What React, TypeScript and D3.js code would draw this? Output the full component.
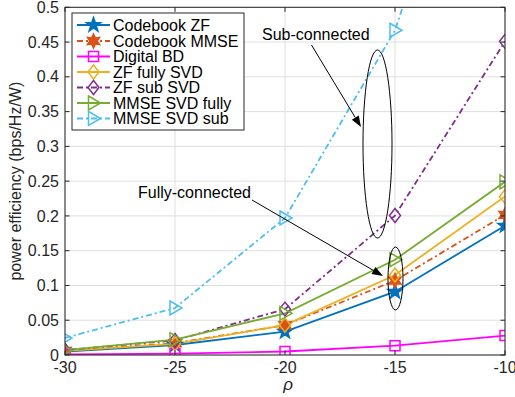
import React from "react";
import * as d3 from "d3";

const rho = [-30, -25, -20, -15, -10];
const codebookZF = [0.005, 0.0144, 0.0335, 0.091, 0.186];
const codebookMMSE = [0.006, 0.017, 0.043, 0.107, 0.2015];
const digitalBD = [0.001, 0.002, 0.005, 0.0134, 0.028];
const zfFullySVD = [0.006, 0.016, 0.043, 0.115, 0.228];
const zfSubSVD = [0.007, 0.021, 0.066, 0.2005, 0.451];
const mmseSVDFully = [0.007, 0.022, 0.06, 0.137, 0.249];
const mmseSVDSub = [0.0245, 0.0676, 0.197, 0.467, 0.94];
const xTicks = [-30, -25, -20, -15, -10];
const yTicks = [0, 0.05, 0.1, 0.15, 0.2, 0.25, 0.3, 0.35, 0.4, 0.45, 0.5];
const seriesNames = [
  "Codebook ZF",
  "Codebook MMSE",
  "Digital BD",
  "ZF fully SVD",
  "ZF sub SVD",
  "MMSE SVD fully",
  "MMSE SVD sub",
];

const W = 515, H = 397;
const L = 65, R = 505, T = 7.3, B = 355;
const FONT = "'Liberation Sans', Arial, Helvetica, sans-serif";
const AX = "#262626";

type Marker = "pentagram" | "hexagram" | "square" | "diamond" | "triangleRight";

const series: { name: string; values: number[]; color: string; dash: string | null; marker: Marker; fill: boolean }[] = [
  { name: seriesNames[0], values: codebookZF, color: "#0072BD", dash: null, marker: "pentagram", fill: true },
  { name: seriesNames[1], values: codebookMMSE, color: "#D95319", dash: "6,3,2,3", marker: "hexagram", fill: true },
  { name: seriesNames[2], values: digitalBD, color: "#FF00FF", dash: null, marker: "square", fill: false },
  { name: seriesNames[3], values: zfFullySVD, color: "#EDB120", dash: null, marker: "diamond", fill: false },
  { name: seriesNames[4], values: zfSubSVD, color: "#7E2F8E", dash: "6,3,2,3", marker: "diamond", fill: false },
  { name: seriesNames[5], values: mmseSVDFully, color: "#77AC30", dash: null, marker: "triangleRight", fill: false },
  { name: seriesNames[6], values: mmseSVDSub, color: "#4DBEEE", dash: "6,3,2,3", marker: "triangleRight", fill: false },
];

function starPath(n: number, ro: number, ri: number) {
  const pts: string[] = [];
  for (let i = 0; i < 2 * n; i++) {
    const r = i % 2 === 0 ? ro : ri;
    const a = -Math.PI / 2 + (i * Math.PI) / n;
    pts.push(`${(r * Math.cos(a)).toFixed(2)},${(r * Math.sin(a)).toFixed(2)}`);
  }
  return "M" + pts.join("L") + "Z";
}

function markerPath(m: Marker) {
  switch (m) {
    case "pentagram":
      return starPath(5, 7.5, 3);
    case "hexagram":
      return starPath(6, 7, 3.6);
    case "square":
      return "M-5,-5L5,-5L5,5L-5,5Z";
    case "diamond":
      return "M0,-7L5.5,0L0,7L-5.5,0Z";
    case "triangleRight":
      return "M-5,-7L7,0L-5,7Z";
  }
}

function MarkerShape({ m, x, y, color, fill }: { m: Marker; x: number; y: number; color: string; fill: boolean }) {
  return (
    <path
      d={markerPath(m)}
      transform={`translate(${x},${y})`}
      fill={fill ? color : "none"}
      stroke={color}
      strokeWidth={1.5}
      strokeLinejoin="miter"
    />
  );
}

function Arrow({ x1, y1, x2, y2 }: { x1: number; y1: number; x2: number; y2: number }) {
  const ang = Math.atan2(y2 - y1, x2 - x1);
  const len = 11, hw = 4;
  const bx = x2 - len * Math.cos(ang), by = y2 - len * Math.sin(ang);
  const px = -Math.sin(ang) * hw, py = Math.cos(ang) * hw;
  return (
    <g>
      <line x1={x1} y1={y1} x2={bx} y2={by} stroke="#000" strokeWidth={1} />
      <path d={`M${x2},${y2}L${bx + px},${by + py}L${bx - px},${by - py}Z`} fill="#000" />
    </g>
  );
}

export default function App() {
  const x = d3.scaleLinear().domain([-30, -10]).range([L, R]);
  const y = d3.scaleLinear().domain([0, 0.5]).range([B, T]);
  const line = d3
    .line<number>()
    .x((_, i) => x(rho[i]))
    .y((d) => y(d));

  const legX = 72, legY = 13, legW = 172, legH = 117;
  const rowY = [25, 41, 56.5, 72, 87.5, 103, 118.5];

  return (
    <svg width={W} height={H} style={{ position: "absolute", left: 0, top: 0, background: "#fff" }} fontFamily={FONT}>
      <defs>
        <clipPath id="plotclip">
          <rect x={L} y={T} width={R - L} height={B - T} />
        </clipPath>
      </defs>
      <rect x={0} y={0} width={W} height={H} fill="#fff" />
      {/* grid */}
      {xTicks.map((t) => (
        <line key={"gx" + t} x1={x(t)} x2={x(t)} y1={T} y2={B} stroke="#dfdfdf" strokeWidth={1} />
      ))}
      {yTicks.map((t) => (
        <line key={"gy" + t} x1={L} x2={R} y1={y(t)} y2={y(t)} stroke="#dfdfdf" strokeWidth={1} />
      ))}
      {/* series */}
      <g clipPath="url(#plotclip)">
        {series.map((s) => (
          <path
            key={s.name}
            d={line(s.values) || ""}
            fill="none"
            stroke={s.color}
            strokeWidth={1.8}
            strokeDasharray={s.dash || undefined}
          />
        ))}
        {series.map((s) =>
          s.values.map((v, i) => (
            <MarkerShape key={s.name + i} m={s.marker} x={x(rho[i])} y={y(v)} color={s.color} fill={s.fill} />
          ))
        )}
      </g>
      {/* axes box */}
      <rect x={L} y={T} width={R - L} height={B - T} fill="none" stroke={AX} strokeWidth={1} />
      {xTicks.map((t) => (
        <g key={"xt" + t}>
          <line x1={x(t)} x2={x(t)} y1={B} y2={B - 4.5} stroke={AX} />
          <line x1={x(t)} x2={x(t)} y1={T} y2={T + 4.5} stroke={AX} />
          <text x={x(t)} y={373} textAnchor="middle" fontSize={16} fill={AX}>
            {t}
          </text>
        </g>
      ))}
      {yTicks.map((t) => (
        <g key={"yt" + t}>
          <line x1={L} x2={L + 4.5} y1={y(t)} y2={y(t)} stroke={AX} />
          <line x1={R} x2={R - 4.5} y1={y(t)} y2={y(t)} stroke={AX} />
          <text x={59} y={y(t)} dy="0.35em" textAnchor="end" fontSize={16} fill={AX}>
            {t === 0 ? "0" : String(t).replace(/^0/, "0")}
          </text>
        </g>
      ))}
      <text x={288} y={390} textAnchor="middle" fontSize={17} fontStyle="italic" fill={AX}>
        ρ
      </text>
      <text
        transform={`translate(21,${(T + B) / 2}) rotate(-90)`}
        textAnchor="middle"
        fontSize={16}
        fill={AX}
      >
        power efficiency (bps/Hz/W)
      </text>
      {/* annotations */}
      <ellipse cx={377.5} cy={144} rx={14.5} ry={94} fill="none" stroke="#000" strokeWidth={1} />
      <ellipse cx={395.5} cy={278.5} rx={7.5} ry={31.5} fill="none" stroke="#000" strokeWidth={1} />
      <Arrow x1={311.5} y1={45} x2={361} y2={127} />
      <Arrow x1={252} y1={200} x2={383} y2={276} />
      <text x={262} y={40} fontSize={16} fill="#000">
        Sub-connected
      </text>
      <text x={138} y={198} fontSize={16} fill="#000">
        Fully-connected
      </text>
      {/* legend */}
      <rect x={legX} y={legY} width={legW} height={legH} fill="#fff" stroke={AX} strokeWidth={1} />
      {series.map((s, i) => (
        <g key={"lg" + s.name}>
          <line
            x1={77}
            x2={110}
            y1={rowY[i]}
            y2={rowY[i]}
            stroke={s.color}
            strokeWidth={1.8}
            strokeDasharray={s.dash || undefined}
          />
          <MarkerShape m={s.marker} x={93.5} y={rowY[i]} color={s.color} fill={s.fill} />
          <text x={113} y={rowY[i]} dy="0.35em" fontSize={16} fill="#000">
            {s.name}
          </text>
        </g>
      ))}
    </svg>
  );
}
